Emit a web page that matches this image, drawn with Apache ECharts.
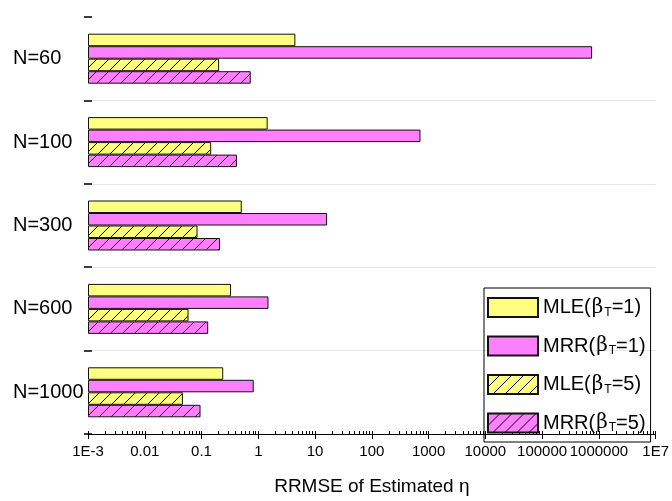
<!DOCTYPE html>
<html>
<head>
<meta charset="utf-8">
<script src="https://cdn.jsdelivr.net/npm/echarts@6/dist/echarts.min.js"></script>
<style>html,body{margin:0;padding:0;background:#fff}#c{width:672px;height:501px}</style>
</head>
<body>
<div id="c"></div>
<script>
// ---- data ----
const categories = ['N=60', 'N=100', 'N=300', 'N=600', 'N=1000'];
const seriesNames = ['MLE(β_T=1)', 'MRR(β_T=1)', 'MLE(β_T=5)', 'MRR(β_T=5)'];
const mle1 = [4.5, 1.46, 0.51, 0.33, 0.24];
const mrr1 = [760000, 720, 16.3, 1.51, 0.83];
const mle5 = [0.203, 0.147, 0.084, 0.058, 0.046];
const mrr5 = [0.735, 0.419, 0.211, 0.130, 0.095];
const majorTicks = [0.001, 0.01, 0.1, 1, 10, 100, 1000, 10000, 100000, 1000000, 10000000];
const tickLabels = ['1E-3', '0.01', '0.1', '1', '10', '100', '1000', '10000', '100000', '1000000', '1E7'];
const axisMin = 0.001, axisMax = 10000000;

// minor ticks (1..9 of each decade)
const minorTicks = [];
for (let e = -3; e < 7; e++) {
  for (let m = 1; m <= 9; m++) minorTicks.push(+(m * Math.pow(10, e)).toPrecision(3));
}
minorTicks.push(axisMax);

const YELLOW = '#FFFF80', PINK = '#FF80FF';
function hatch(bg) {
  const s = 12;
  const cv = document.createElement('canvas');
  cv.width = s; cv.height = s;
  const ctx = cv.getContext('2d');
  ctx.fillStyle = bg; ctx.fillRect(0, 0, s, s);
  ctx.strokeStyle = '#000'; ctx.lineWidth = 1;
  ctx.beginPath();
  ctx.moveTo(-2, s + 2); ctx.lineTo(s + 2, -2);
  ctx.moveTo(-2, 2); ctx.lineTo(2, -2);
  ctx.moveTo(s - 2, s + 2); ctx.lineTo(s + 2, s - 2);
  ctx.stroke();
  return { image: cv, repeat: 'repeat' };
}
const fills = [YELLOW, PINK, hatch(YELLOW), hatch(PINK)];
const values = [mle1, mrr1, mle5, mrr5];

const FONT = 'Liberation Sans, Arial, sans-serif';
const series = [];
values.forEach((vals, i) => {
  const stackId = 's' + i;
  series.push({
    type: 'bar', stack: stackId, silent: true, xAxisIndex: 0,
    data: categories.map(() => axisMin),
    itemStyle: { color: 'rgba(0,0,0,0)', borderWidth: 0 },
    barWidth: 12.5, barGap: '0%'
  });
  series.push({
    name: seriesNames[i], type: 'bar', stack: stackId, xAxisIndex: 0,
    data: vals,
    itemStyle: { color: fills[i], borderColor: '#111', borderWidth: 1 },
    barWidth: 12.5, barGap: '0%'
  });
});

const chart = echarts.init(document.getElementById('c'), null, { renderer: 'canvas' });
chart.setOption({
  animation: false,
  backgroundColor: '#fff',
  textStyle: { fontFamily: FONT },
  grid: { left: 88, right: 12, top: 17, bottom: 63 },
  legend: {
    orient: 'vertical', left: 484, top: 288,
    padding: [9, 5, 8, 3],
    borderColor: '#000', borderWidth: 1,
    itemWidth: 50, itemHeight: 19, itemGap: 17,
    icon: 'rect',
    data: seriesNames,
    formatter: n => {
      const p = n.split('_T');
      const q = p[0].split('β');
      return '{a|' + q[0] + '}{b|β}{s|T}{a|' + p[1] + '}';
    },
    textStyle: {
      color: '#000', fontFamily: FONT,
      rich: {
        a: { fontSize: 20, color: '#000', fontFamily: FONT },
        b: { fontSize: 20, color: '#000', fontFamily: 'DejaVu Serif', padding: [0, 1, 0, 1] },
        s: { fontSize: 12, color: '#000', fontFamily: FONT, padding: [10, 0, 0, 0] }
      }
    }
  },
  xAxis: [{
    type: 'log', logBase: 10, min: axisMin, max: axisMax,
    position: 'bottom',
    axisLine: { show: true, lineStyle: { color: '#000', width: 1 } },
    axisTick: { show: true, length: 5, customValues: majorTicks, lineStyle: { color: '#000' } },
    axisLabel: {
      customValues: majorTicks, fontSize: 15, color: '#000', margin: 10, fontFamily: FONT,
      formatter: v => tickLabels[Math.round(Math.log10(v)) + 3]
    },
    splitLine: { show: false },
    name: 'RRMSE of Estimated η', nameLocation: 'middle', nameGap: 43,
    nameTextStyle: { fontSize: 19, color: '#000', fontFamily: FONT }
  }, {
    type: 'log', logBase: 10, min: axisMin, max: axisMax,
    position: 'bottom', offset: 0,
    axisLine: { show: false },
    axisTick: { show: true, inside: true, length: 3, customValues: minorTicks, lineStyle: { color: '#000' } },
    axisLabel: { show: false },
    splitLine: { show: false }
  }],
  yAxis: {
    type: 'category', data: categories, inverse: true, offset: -4,
    axisLine: { show: false },
    axisTick: { show: true, length: 8, lineStyle: { color: '#000', width: 1.5 } },
    axisLabel: { align: 'left', margin: 79, fontSize: 20, color: '#000', fontFamily: FONT },
    splitLine: { show: true, interval: (i) => i > 0, lineStyle: { color: '#e6e6e6', width: 1 } }
  },
  series: series
});
</script>
</body>
</html>
